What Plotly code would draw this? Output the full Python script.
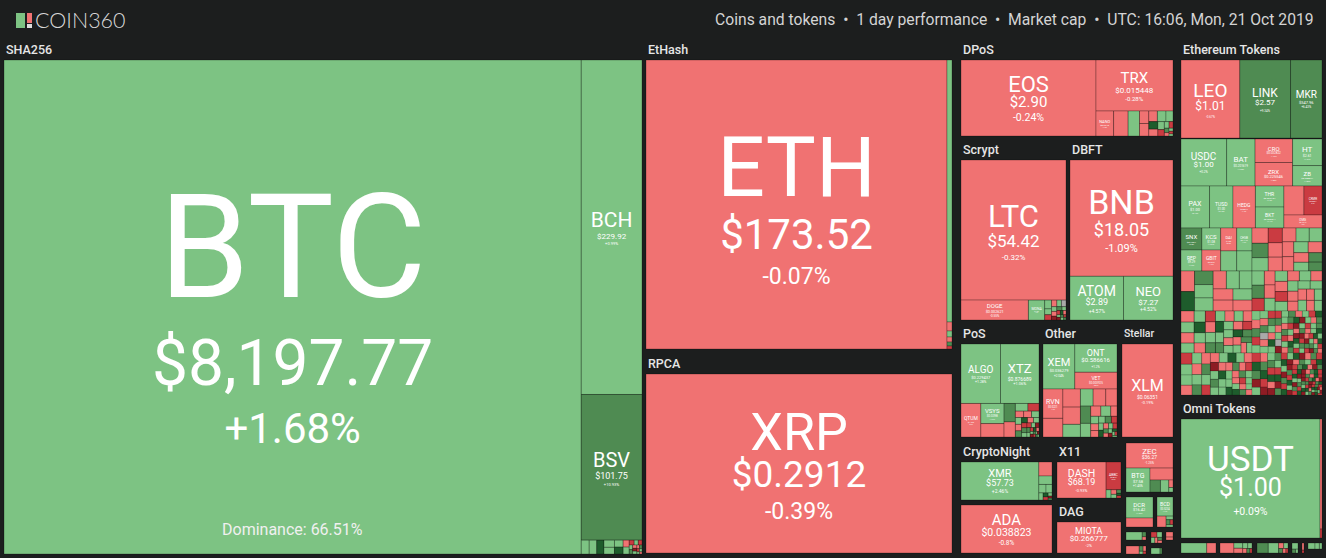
import plotly.graph_objects as go

W, H = 1326, 558
BG = "#1c1e1e"

sha256_syms = ["BTC", "BCH", "BSV"]
sha256_vals = [285038, 20313, 8845, 75, 70, 105, 110, 100, 60, 60, 42, 42, 24, 20, 18, 16, 15, 14, 12, 12, 10, 9, 8, 8, 6, 5]
sha256_chg = [1.68, 0.99, 10.93, 1.2, 0.8, 1.1, 0.9, 20, 0.6, 20, -2, 1.4, -9, 1, -12, 2, 9, -2, -20, 1, -3, 6, -9, 1, 2, -1]

ethash_syms = ["ETH"]
ethash_vals = [86989, 1310, 45, 30, 25, 20, 15]
ethash_chg = [-0.07, 1.1, -1.2, 2.0, -0.8, 7.0, -11]

rpca_syms = ["XRP"]
rpca_vals = [54774]
rpca_chg = [-0.39]

dpos_syms = ["EOS"]
dpos_vals = [10260]
dpos_chg = [-0.24]
dpos2_syms = ["TRX"]
dpos2_vals = [3876]
dpos2_chg = [-0.28]
dpos3_syms = ["NANO"]
dpos3_vals = [425, 350, 275, 112, 112, 88, 88, 72, 66, 60, 50, 40, 30, 25, 20, 15, 12, 10, 8]
dpos3_chg = [-1.2, -0.8, 1.5, -1.0, -0.6, -1.2, 2.0, 1.0, 20, -0.5, 1.3, -9, 2.2, -14, 7, -1, 3, -12, 1]

scrypt_syms = ["LTC", "DOGE", "MONA"]
scrypt_vals = [14700, 1340, 324, 60, 40, 36, 35, 30, 30, 25, 25, 20, 20, 15, 15, 12, 12, 10, 10, 8, 8, 6, 6]
scrypt_chg = [-0.32, -0.55, 1.9, 2, 1, -9, -1, 3, 0, 1, -2, -20, 7, 1, -11, 20, -3, 2, -18, 8, 1, -9, 6]

dbft_syms = ["BNB", "ATOM", "NEO"]
dbft_vals = [11948, 2332, 2156]
dbft_chg = [-1.09, 4.57, 4.52]

pos_syms = ["ALGO", "XTZ", "QTUM", "VSYS"]
pos_vals = [2223, 2166, 630, 441, 294, 198, 162, 91, 80, 50, 48, 45, 40, 38, 36, 30, 30, 28, 25, 25, 22, 20, 18, 16, 15, 14, 12, 10, 10, 8, 8, 6, 6, 5, 5, 4, 4]
pos_chg = [1.28, 1.06, -0.9, 1.6, -1.3, 6.2, -1.5, 1.1, -9, -1.4, -1, 2, 1, -2, 6, 20, -1, 1, -8, 7, 2, -12, 1, -18, 6, 3, -9, 20, -2, 1, -16, 7, -11, 2, -20, 9, 1]

other_syms = ["XEM", "ONT", "VET"]
other_vals = [1364, 1134, 672]
other_chg = [2.04, 1.2, -0.87]
other2_syms = ["RVN"]
other2_vals = [550, 350, 299, 286, 209, 204, 204, 180, 168, 132, 98, 96, 60, 56, 50, 48, 42, 40, 36, 32, 30, 28, 24, 22, 20, 18, 16, 14, 12, 10, 8, 6]
other2_chg = [-1.2, -1.7, -1.4, -1.1, 1.2, 1.4, -1.3, -1.2, 6.1, 1.5, -1.3, 1.2, -1.1, 1.4, -1.3, -0.9, 2.1, 7, -10, 1.5, 20, -2, 1, -9, 8, -1, 1, -17, 20, 2, -8, 1]

stellar_syms = ["XLM"]
stellar_vals = [4743]
stellar_chg = [-0.19]

cryptonight_syms = ["XMR"]
cryptonight_vals = [2926, 182, 110, 60, 50, 30, 20, 15, 12, 8, 7]
cryptonight_chg = [2.46, -1.2, 1.3, 1.1, 0.9, 1.6, 20, -9, 2, -17, 7]

ada_syms = ["ADA"]
ada_vals = [4368]
ada_chg = [-0.8]

x11_syms = ["DASH", "ABBC"]
x11_vals = [1728, 405, 40, 25, 20, 15, 10, 10]
x11_chg = [-0.93, -8.2, 1.4, -1.1, 1.2, 7, 20, -10]

dag_syms = ["MIOTA"]
dag_vals = [1984]
dag_chg = [-2]

equihash_syms = ["ZEC", "BTG"]
equihash_vals = [1128, 552, 264, 120, 96, 30, 18]
equihash_chg = [-1.25, 1.45, -1.1, 6.0, 1.3, -1.0, 1.1]

decred_syms = ["DCR"]
decred_vals = [567, 243]
decred_chg = [1.62, -1.0]

bcd_syms = ["BCD"]
bcd_vals = [304, 99, 25, 20, 15, 15]
bcd_chg = [1.4, -1.1, 1.2, 7, -9, 1]

misc1_vals = [128, 18, 12]
misc1_chg = [1.3, 7, -1]
misc2_vals = [30, 25, 20, 15, 12, 10]
misc2_chg = [-9, 1.3, 1.1, -1.2, 7, -1]
misc3_vals = [24, 14]
misc3_chg = [-1.1, -1.3]
misc4_vals = [104, 20, 15, 10, 8]
misc4_chg = [-1.2, 7, -1, 1, -9]
misc5_vals = [54, 12]
misc5_chg = [1.2, 7]

tok1_syms = ["LEO", "LINK", "MKR"]
tok1_vals = [4524, 3900, 2418]
tok1_chg = [-0.67, 9.34, 6.43]

tok2_syms = ["USDC", "BAT", "CRO", "ZRX", "HT", "ZB"]
tok2_vals = [2070, 1288, 851, 850, 754, 580]
tok2_chg = [0.2, 1.35, -1.42, -1.55, 1.24, 1.82]

tok3_syms = ["PAX", "TUSD", "HEDG", "THR", "BKT", "", "CRMR", "OMG"]
tok3_vals = [1176, 966, 924, 588, 587, 570, 513, 486]
tok3_chg = [0.12, 0.15, -1.4, 1.2, 1.1, -1.3, -8.4, -1.6]

tok4_syms = ["SNX", "REP", "KCS", "GBIT", "DAI", "CHSB"]
tok4_vals = [420, 400, 378, 360, 336, 320, 294, 280]
tok4_chg = [6.8, 1.9, 1.04, -1.2, -0.9, 1.2, 1.4, 1.1]

tok5_vals = [190, 180, 165, 160, 155, 150, 145, 140, 135, 130, 125, 120, 115, 110, 100, 95, 90]
tok5_chg = [-1.2, 6.5, 1.4, -9.2, -1.1, -1.4, -1.2, 1.3, 1.2, -1.1, -1.5, 1.1, -1.3, -1.2, 1.5, 6.1, 6.8]

tok6_vals = [270, 255, 245, 240, 235, 230, 225, 220, 215, 210, 205, 200]
tok6_chg = [-1.3, 21, 6.2, 1.2, 1.1, -1.4, 1.3, 1.1, -1.2, -1.5, 1.4, -1.1]

tok7_vals = [135, 125, 120, 115, 110, 105, 100, 98, 95, 92, 90, 88, 85, 82, 80, 78, 76, 74, 72, 70, 68, 66, 64, 62]
tok7_chg = [1.2, 6.2, -8.4, -1.1, -1.3, 1.4, 1.1, -1.2, -8.1, 1.3, -1.2, 1.1, -1.4, 1.2, -1.1, -1.3, 1.4, 1.1, -1.2, 1.3, -1.5, 1.2, -1.3, 1.1]

tok8_vals = [140, 135, 130, 125, 120, 115, 110, 108, 105, 102, 100, 98, 95, 92, 90, 88, 85, 82, 80, 78, 76, 74, 72, 70, 68, 66, 64, 62, 60, 58, 56, 54]
tok8_chg = [-1.2, 1.4, -1.1, 1.2, 1.1, 20, 1.3, -1.4, -8.3, -1.1, 1.2, 6.4, 1.5, -1.3, 1.1, -1.2, 20, 1.4, 6.2, 1.3, -1.1, -8.7, 1.2, -1.4, 1.1, 20, 6.3, -1.2, 1.4, 6.6, -1.3, 1.1]

tok9_vals = [92, 88, 84, 80, 78, 76, 74, 72, 70, 68, 66, 64, 62, 60, 58, 56, 54, 52, 50, 48, 47, 46, 45, 44, 43, 42, 41, 40, 39, 38, 37, 36, 35, 34, 33, 32, 31, 30, 29, 28, 27, 26, 25, 24]
tok9_chg = [-8.2, 1.3, 1.1, -1.2, 1.4, -1.3, 1.2, 6.1, -1.1, 6.5, 1.3, -8.8, -1.2, 1.1, 21, 1.4, -1.3, -20, 1.2, 6.2, 1.1, -1.4, 21, 1.3, 1.2, -1.2, 6.4, -1.5, -8.1, 1.1, 1.4, 21, -1.1, 6.7, 1.2, -1.3, 1.1, 21, -8.3, 1.3, -1.4, 6.3, 1.2, -1.1]

tok10_vals = [62, 60, 58, 56, 54, 52, 50, 49, 48, 47, 46, 45, 44, 43, 42, 41, 40, 40, 39, 39, 38, 38, 37, 37, 36, 36, 35, 35, 34, 34, 33, 33, 32, 32, 31, 31, 30, 30, 30, 29, 29, 29, 28, 28, 28, 27, 27, 27, 26, 26, 26, 25, 25, 25, 24, 24, 24, 23, 23, 23, 22, 22, 22, 21, 21, 21, 20, 20, 20, 19, 19, 19, 18, 18, 18, 17, 17, 17, 16, 16]
tok10_chg = [1.2, -1.3, 6.2, -8.4, 1.4, 1.1, -1.2, 6.5, 0, -1.1, 1.3, -9.2, 6.1, 1.2, -1.4, 21, 1.1, -8.1, 6.3, -1.3, 1.2, 0, -20, 1.4, 6.6, -1.2, 1.3, -8.7, 21, 1.1, -1.5, 6.4, -9.1, 1.2, -1.1, 6.8, 21, -20, 1.3, -1.4, 6.2, -8.3, 1.1, -1.2, 21, 6.1, -20, 1.4, -8.5, 1.2, 6.3, -1.3, -20, 21, 1.1, -8.2, 6.5, -1.1, 1.3, 21, -20, -8.6, 6.7, 1.2, -1.2, -9.4, 21, 1.4, -20, 6.2, -8.8, 1.1, -1.4, 21, 6.4, -20, 1.3, -8.3, 6.9, -1.5]

tok11_vals = [54, 52, 50, 48, 46, 45, 44, 42, 41, 40, 39, 38, 37, 36, 35, 34, 33, 32, 31, 30, 30, 29, 29, 28, 28, 27, 27, 26, 26, 25, 25, 24, 24, 23, 23, 22, 22, 21, 21, 20, 20, 20, 19, 19, 19, 18, 18, 18, 17, 17, 17, 16, 16, 16, 15, 15, 15, 15, 14, 14, 14, 14, 13, 13, 13, 13, 12, 12, 12, 12, 11, 11, 11, 11, 10, 10, 10, 10, 10, 9, 9, 9, 9, 9, 8, 8, 8, 8, 8, 8, 7, 7, 7, 7, 7, 7, 6, 6, 6, 6, 6, 6, 5, 5, 5, 5, 5, 5, 5, 5]
tok11_chg = [-8.2, 21, 6.1, -20, 1.3, -1.2, 6.4, 21, -8.7, -20, 1.1, 6.2, -9.3, 21, -1.4, -20, 6.5, 1.2, -8.1, 21, -20, 6.7, -8.4, 1.4, 21, -20, -1.1, 6.3, -8.9, 21, 1.2, -20, 6.6, -8.2, 21, -20, -1.3, 6.1, 1.1, -8.6, 21, -20, 6.8, -9.1, 21, 1.3, -20, -8.3, 6.2, 21, -1.2, -20, 6.4, -8.5, 21, 1.4, -20, 6.9, -8.7, 21, -20, -1.1, 6.3, 21, -9.2, -20, 1.2, 6.5, -8.1, 21, -20, 6.6, -1.4, 21, -8.8, -20, 6.2, 1.3, 21, -20, -8.4, 6.7, 21, -1.3, -20, 6.1, -9.5, 21, 1.1, -20, -8.2, 6.4, 21, -20, -1.2, 6.8, -8.6, 21, 1.4, -20, 6.3, -8.3, 21, -20, -1.5, 6.5, 21, 1.2, -20, -8.9]

omni_syms = ["USDT"]
omni_vals = [16541, 220, 18]
omni_chg = [0.09, -1.2, -9]

omni1_vals = [250, 90]
omni1_chg = [1.2, -1.1]
omni2_vals = [150, 50, 45, 30, 25, 20, 15, 10]
omni2_chg = [-1.2, 1.3, -1.1, 1.4, 1.2, -1.3, 7, -9]
omni3_vals = [120, 110, 30, 25, 20, 15, 10]
omni3_chg = [6.2, 1.3, -1.2, 1.1, 7, -1.4, -9]
omni4_vals = [40, 15, 10]
omni4_chg = [1.3, 6.1, 1.2]
omni5_vals = [20, 8]
omni5_chg = [-1.3, -9]
omni6_vals = [40, 25, 15]
omni6_chg = [1.2, 1.4, 1.1]

prices = {
    "BTC": "$8,197.77", "BCH": "$229.92", "BSV": "$101.75", "ETH": "$173.52", "XRP": "$0.2912",
    "EOS": "$2.90", "TRX": "$0.015448", "NANO": "$0.9216", "LTC": "$54.42", "DOGE": "$0.002621", "MONA": "$1.09",
    "BNB": "$18.05", "ATOM": "$2.89", "NEO": "$7.27", "ALGO": "$0.229437", "XTZ": "$0.876689",
    "QTUM": "$1.59", "VSYS": "$0.0398", "XEM": "$0.036279", "ONT": "$0.586616", "VET": "$0.003925", "RVN": "$0.0221",
    "XLM": "$0.06351", "XMR": "$57.73", "ADA": "$0.038823", "DASH": "$68.19", "ABBC": "$0.0812", "MIOTA": "$0.266777",
    "ZEC": "$36.27", "BTG": "$7.58", "DCR": "$16.42", "BCD": "$0.5234",
    "LEO": "$1.01", "LINK": "$2.57", "MKR": "$547.96", "USDC": "$1.00", "BAT": "$0.201619", "CRO": "$0.032822",
    "ZRX": "$0.225546", "HT": "$2.61", "ZB": "$0.208841", "PAX": "$1.00", "TUSD": "$1.00", "HEDG": "$0.8812",
    "THR": "$0.092154", "BKT": "$0.020311", "CRMR": "$0.5021", "OMG": "$0.7612", "SNX": "$0.7654", "KCS": "$1.08",
    "DAI": "$1.00", "REP": "$9.29", "GBIT": "$0.0231", "CHSB": "$0.1142", "USDT": "$1.00",
}

# symbol, price and change size in px
label_px = {
    "BTC": (145, 64, 42), "BCH": (21, 8, 4), "BSV": (20, 9, 4), "ETH": (84, 42, 23), "XRP": (52, 37, 23),
    "EOS": (22, 15, 10.5), "TRX": (15, 8, 6), "NANO": (4, 2.5, 2), "LTC": (31, 17, 8), "DOGE": (8, 5, 4), "MONA": (6, 3, 2),
    "BNB": (34, 18, 11), "ATOM": (14, 9, 5), "NEO": (13, 8, 5), "ALGO": (10, 4, 3.5), "XTZ": (13, 5, 4),
    "QTUM": (6, 3, 2), "VSYS": (6, 3, 2), "XEM": (11, 4, 3), "ONT": (9, 6, 3), "VET": (6, 3.5, 2), "RVN": (8, 3, 2),
    "XLM": (16, 5, 4), "XMR": (11, 9, 5), "ADA": (15, 10.5, 6.5), "DASH": (10.5, 9, 4), "ABBC": (4, 2, 2), "MIOTA": (9, 8, 4),
    "ZEC": (8, 5, 3), "BTG": (7, 4, 3), "DCR": (6, 4, 2), "BCD": (6, 3, 2),
    "LEO": (19, 12, 3), "LINK": (12, 8, 3), "MKR": (10, 4, 3), "USDC": (10, 8, 3), "BAT": (8, 3, 2), "CRO": (6, 3, 2),
    "ZRX": (6, 4, 2), "HT": (8, 3.5, 2), "ZB": (6, 2.5, 2), "PAX": (7, 4, 2), "TUSD": (5, 3, 2), "HEDG": (5, 2, 2),
    "THR": (5, 2.5, 2), "BKT": (5, 2.5, 2), "CRMR": (3, 2, 1.5), "OMG": (4, 2.5, 2), "SNX": (6, 2.5, 2), "KCS": (6, 3, 2),
    "DAI": (4, 2, 2), "REP": (5, 3, 2), "GBIT": (5, 2, 2), "CHSB": (3, 2, 1.5), "USDT": (35, 25, 10.5),
}


def tile_colour(chg):
    if chg == 0:
        return "#a9a9a9"
    if chg >= 15:
        return "#1e5c2c"
    if chg >= 5:
        return "#4f8b52"
    if chg > 0:
        return "#7dc383"
    if chg > -5:
        return "#f07272"
    if chg > -15:
        return "#ca3b41"
    return "#8d1c24"


def line_gaps(sym):
    a, b, c = label_px[sym]
    return 0.84 * (a + b) / 2, 1.08 * (b + c) / 2


def tile_text(sym, chg):
    if not sym:
        return ""
    a, b, c = label_px[sym]
    gap1, gap2 = line_gaps(sym)
    pct = f"{chg:+.2f}".rstrip("0").rstrip(".")
    # plotly spaces all lines alike, so the last one is moved to set its own gap
    return (f'<span style="font-size:{a}px">{sym}</span><br>'
            f'<span style="font-size:{b}px">{prices[sym]}</span><br>'
            f'<span style="font-size:{c}px;baseline-shift:{gap1 - gap2:.1f}px">{pct}%</span>')


fig = go.Figure()


def add_panel(name, rect, vals, chg, syms=(), header=None, line=1, packing="squarify", head_size=12.5):
    # rect is the block in page px: x0, y0, x1, y1
    x0, y0, x1, y1 = rect
    syms = list(syms) + [""] * (len(vals) - len(syms))
    ids = [f"{name}-{i}" for i in range(len(vals))]
    fig.add_trace(go.Treemap(
        ids=[name] + ids,
        labels=[name] + [s or " " for s in syms],
        parents=[""] + [name] * len(vals),
        values=[0] + list(vals),
        branchvalues="remainder",
        sort=True,
        text=[""] + [tile_text(s, c) for s, c in zip(syms, chg)],
        textinfo="text",
        textposition="middle center",
        textfont=dict(family="Roboto", color="white",
                      size=[10] + [line_gaps(s)[0] / 1.3 if s else 4 for s in syms]),
        marker=dict(colors=["rgba(0,0,0,0)"] + [tile_colour(c) for c in chg],
                    line=dict(color="rgba(0,0,0,0.25)", width=line),
                    pad=dict(t=0, l=0, r=0, b=0)),
        root=dict(color="rgba(0,0,0,0)"),
        pathbar=dict(visible=False),
        tiling=dict(packing=packing, squarifyratio=1, pad=0),
        hoverinfo="skip",
        domain=dict(x=[x0 / W, x1 / W], y=[1 - y1 / H, 1 - y0 / H]),
    ))
    if header:
        fig.add_annotation(x=x0 / W, y=1 - (y0 - 11) / H, text=header, showarrow=False,
                           xref="paper", yref="paper", xanchor="left", yanchor="middle",
                           font=dict(family="Roboto", size=head_size, color="#e6e6e6", weight=500))


add_panel("sha", (4, 60, 642, 554), sha256_vals, sha256_chg, sha256_syms, "SHA256")
add_panel("ethash", (646, 60, 952, 349), ethash_vals, ethash_chg, ethash_syms, "EtHash")
add_panel("rpca", (646, 374, 952, 553), rpca_vals, rpca_chg, rpca_syms, "RPCA")
add_panel("dpos", (961, 60, 1096, 136), dpos_vals, dpos_chg, dpos_syms, "DPoS")
add_panel("dpos2", (1096, 60, 1173, 111), dpos2_vals, dpos2_chg, dpos2_syms)
add_panel("dpos3", (1096, 111, 1173, 136), dpos3_vals, dpos3_chg, dpos3_syms)
add_panel("scrypt", (961, 160, 1066, 320), scrypt_vals, scrypt_chg, scrypt_syms, "Scrypt")
add_panel("dbft", (1070, 160, 1173, 320), dbft_vals, dbft_chg, dbft_syms, "DBFT")
add_panel("pos", (961, 344, 1039, 437), pos_vals, pos_chg, pos_syms, "PoS")
add_panel("other", (1043, 344, 1117, 389), other_vals, other_chg, other_syms, "Other")
add_panel("other2", (1043, 389, 1117, 437), other2_vals, other2_chg, other2_syms)
add_panel("stellar", (1122, 344, 1173, 437), stellar_vals, stellar_chg, stellar_syms, "Stellar", head_size=10.5)
add_panel("cn", (961, 462, 1052, 500), cryptonight_vals, cryptonight_chg, cryptonight_syms, "CryptoNight")
add_panel("ada", (961, 505, 1052, 553), ada_vals, ada_chg, ada_syms)
add_panel("x11", (1057, 462, 1121, 498), x11_vals, x11_chg, x11_syms, "X11")
add_panel("dag", (1057, 522, 1121, 553), dag_vals, dag_chg, dag_syms, "DAG")
add_panel("equihash", (1126, 443, 1173, 492), equihash_vals, equihash_chg, equihash_syms)
add_panel("decred", (1126, 497, 1153, 527), decred_vals, decred_chg, decred_syms)
add_panel("bcd", (1157, 497, 1173, 527), bcd_vals, bcd_chg, bcd_syms)
add_panel("m1", (1126, 532, 1146, 540), misc1_vals, misc1_chg)
add_panel("m2", (1151, 532, 1162, 543), misc2_vals, misc2_chg)
add_panel("m3", (1166, 532, 1173, 540), misc3_vals, misc3_chg)
add_panel("m4", (1126, 546, 1146, 554), misc4_vals, misc4_chg)
add_panel("m5", (1151, 548, 1162, 554), misc5_vals, misc5_chg)
add_panel("t1", (1181, 60, 1322, 138), tok1_vals, tok1_chg, tok1_syms, "Ethereum Tokens", packing="dice")
add_panel("t2", (1181, 139, 1322, 186), tok2_vals, tok2_chg, tok2_syms)
add_panel("t3", (1181, 186, 1322, 228), tok3_vals, tok3_chg, tok3_syms)
add_panel("t4", (1181, 228, 1252, 271), tok4_vals, tok4_chg, tok4_syms)
add_panel("t5", (1252, 228, 1322, 271), tok5_vals, tok5_chg)
add_panel("t6", (1181, 271, 1252, 311), tok6_vals, tok6_chg)
add_panel("t7", (1252, 271, 1322, 311), tok7_vals, tok7_chg)
add_panel("t8", (1181, 311, 1252, 353), tok8_vals, tok8_chg)
add_panel("t9", (1181, 353, 1252, 395), tok9_vals, tok9_chg, line=0.7)
add_panel("t10", (1252, 311, 1322, 353), tok10_vals, tok10_chg, line=0.6)
add_panel("t11", (1252, 353, 1322, 395), tok11_vals, tok11_chg, line=0.5)
add_panel("omni", (1181, 419, 1322, 538), omni_vals, omni_chg, omni_syms, "Omni Tokens")
add_panel("o1", (1181, 543, 1216, 553), omni1_vals, omni1_chg)
add_panel("o2", (1220, 543, 1252, 553), omni2_vals, omni2_chg)
add_panel("o3", (1257, 543, 1288, 553), omni3_vals, omni3_chg)
add_panel("o4", (1292, 543, 1298, 553), omni4_vals, omni4_chg)
add_panel("o5", (1302, 543, 1304, 553), omni5_vals, omni5_chg)
add_panel("o6", (1308, 543, 1322, 549), omni6_vals, omni6_chg)


def px_rect(x0, y0, x1, y1, colour):
    return dict(type="rect", xref="paper", yref="paper", x0=x0 / W, x1=x1 / W, y0=1 - y1 / H, y1=1 - y0 / H,
                fillcolor=colour, line=dict(width=0), layer="above")


fig.update_layout(
    width=W, height=H,
    margin=dict(l=0, r=0, t=0, b=0),
    paper_bgcolor=BG, plot_bgcolor=BG,
    showlegend=False,
    shapes=[px_rect(16, 13, 25, 28, "#7dc383"), px_rect(27, 13, 32, 23, "#f07272"), px_rect(27, 24, 32, 28, "#dddddd")],
)
fig.add_annotation(x=33 / W, y=1 - 20 / H, text="COIN360", showarrow=False, xref="paper", yref="paper",
                   xanchor="left", yanchor="middle", font=dict(family="Lato", size=21.5, color="#d8d8d8", weight=300))
fig.add_annotation(x=1316 / W, y=1 - 19 / H, showarrow=False, xref="paper", yref="paper",
                   text="Coins and tokens  \u2022  1 day performance  \u2022  Market cap  \u2022  UTC: 16:06, Mon, 21 Oct 2019",
                   xanchor="right", yanchor="middle", font=dict(family="Roboto", size=15.7, color="#d4d4d4"))
fig.add_annotation(x=292 / W, y=1 - 529 / H, text="Dominance: 66.51%", showarrow=False, xref="paper", yref="paper",
                   xanchor="center", yanchor="middle", font=dict(family="Roboto", size=16, color="#f0f0f0"))

fig.write_html("out.html", config={"displayModeBar": False},
               post_script="document.body.style.margin='0';document.body.style.background='%s';" % BG)
